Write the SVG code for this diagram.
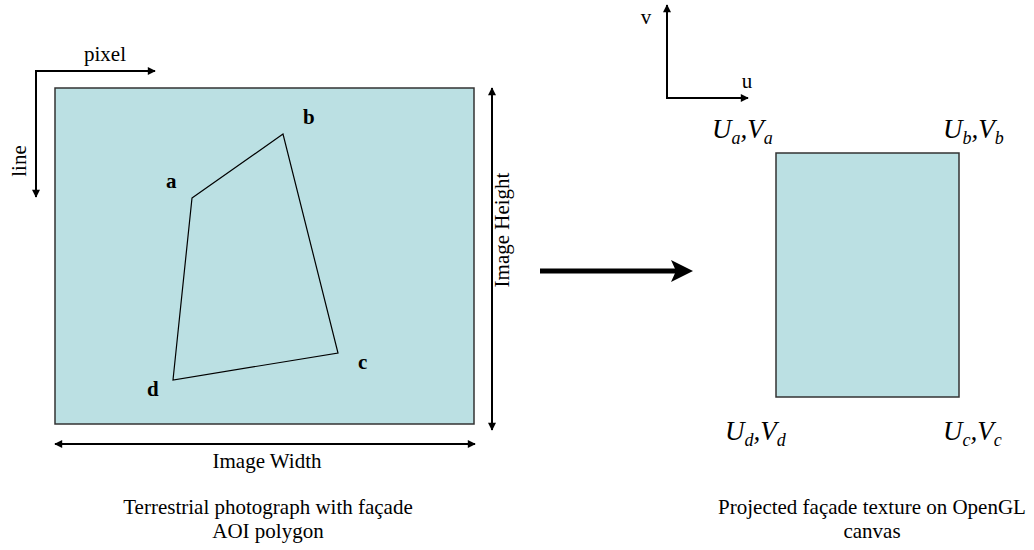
<svg xmlns="http://www.w3.org/2000/svg" width="1034" height="550" viewBox="0 0 1034 550">
<style>
.t{font-family:"Liberation Serif","Times New Roman",serif;font-size:21px;fill:#000}
.b{font-weight:bold}
.i{font-family:"Liberation Serif","Times New Roman",serif;font-style:italic;font-size:27px;fill:#000}
.s{font-size:18px}
.ln{stroke:#000;stroke-width:2;fill:none}
.box{fill:#BBE0E3;stroke:#333;stroke-width:1.5}
</style>
<defs>
<marker id="ah" viewBox="0 0 10 10" refX="9" refY="5" markerWidth="9" markerHeight="8" orient="auto-start-reverse" markerUnits="userSpaceOnUse">
<path d="M0,0 L10,5 L0,10 z" fill="#000"/>
</marker>
<marker id="ah2" viewBox="0 0 22 22" refX="5" refY="11" markerWidth="22" markerHeight="22" orient="auto" markerUnits="userSpaceOnUse">
<path d="M0,0 L22,11 L0,22 L5,11 z" fill="#000"/>
</marker>
</defs>
<rect width="1034" height="550" fill="#fff"/>
<g id="photo">
<rect class="box" x="55" y="88" width="419" height="336"/>
<polygon points="192,198 283,134 338,353 173,380" fill="none" stroke="#000" stroke-width="1.2"/>
<text class="t b" x="166" y="188">a</text>
<text class="t b" x="303" y="124">b</text>
<text class="t b" x="358" y="369">c</text>
<text class="t b" x="147" y="396">d</text>
</g>
<g id="texture">
<rect class="box" x="776" y="153" width="183" height="244"/>
<text class="i" x="712" y="138">U<tspan class="s" dy="6">a</tspan><tspan dy="-6">,V</tspan><tspan class="s" dy="6">a</tspan></text>
<text class="i" x="943" y="138">U<tspan class="s" dy="6">b</tspan><tspan dy="-6">,V</tspan><tspan class="s" dy="6">b</tspan></text>
<text class="i" x="725" y="440">U<tspan class="s" dy="6">d</tspan><tspan dy="-6">,V</tspan><tspan class="s" dy="6">d</tspan></text>
<text class="i" x="943" y="440">U<tspan class="s" dy="6">c</tspan><tspan dy="-6">,V</tspan><tspan class="s" dy="6">c</tspan></text>
</g>
<g id="connectors">
<path class="ln" d="M36,197 L36,71 L155,71" marker-start="url(#ah)" marker-end="url(#ah)"/>
<path class="ln" d="M492,88 L492,430" marker-start="url(#ah)" marker-end="url(#ah)"/>
<path class="ln" d="M55,444 L475,444" marker-start="url(#ah)" marker-end="url(#ah)"/>
<path class="ln" d="M667,5 L667,98 L748,98" marker-start="url(#ah)" marker-end="url(#ah)"/>
<path d="M540,271 L676,271" stroke="#000" stroke-width="5" fill="none" marker-end="url(#ah2)"/>
</g>
<g id="labels">
<text class="t" x="105" y="61" text-anchor="middle">pixel</text>
<text class="t" transform="translate(26,161) rotate(-90)" text-anchor="middle">line</text>
<text class="t" transform="translate(509,230) rotate(-90)" text-anchor="middle">Image Height</text>
<text class="t" x="267" y="468" text-anchor="middle">Image Width</text>
<text class="t" x="646" y="24" text-anchor="middle">v</text>
<text class="t" x="747" y="88" text-anchor="middle">u</text>
<text class="t" x="268" y="514" text-anchor="middle">Terrestrial photograph with façade</text>
<text class="t" x="268" y="538" text-anchor="middle">AOI polygon</text>
<text class="t" x="872" y="514" text-anchor="middle">Projected façade texture on OpenGL</text>
<text class="t" x="872" y="538" text-anchor="middle">canvas</text>
</g>
</svg>
